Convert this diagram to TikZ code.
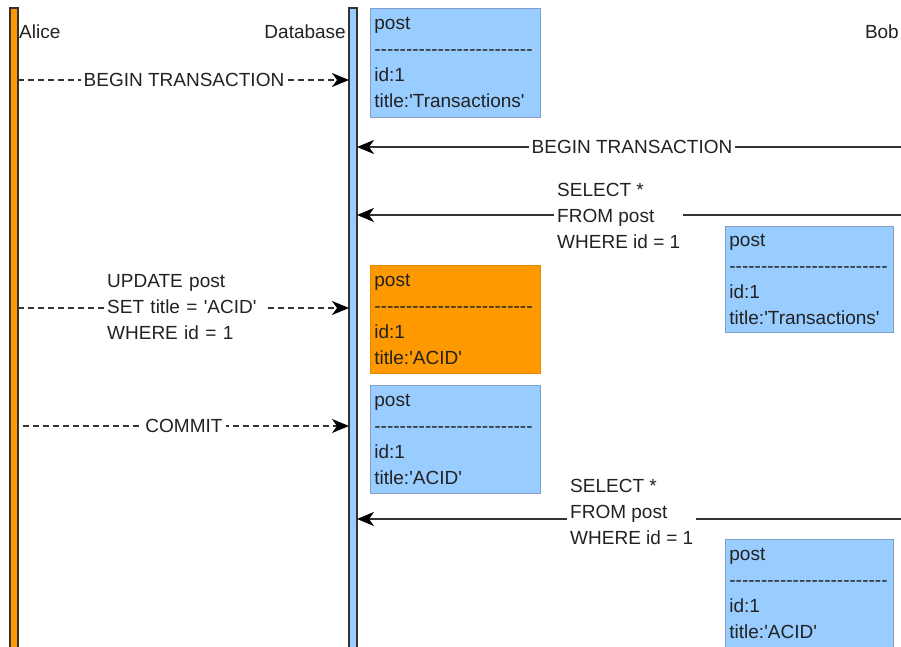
\documentclass[tikz,border=0pt]{standalone}
\usepackage{fontspec}
\setmainfont{Liberation Sans}
\usetikzlibrary{arrows.meta}

\definecolor{rowblue}{HTML}{99CCFF}
\definecolor{rowblueline}{HTML}{7F9FC8}
\definecolor{roworange}{HTML}{FF9900}
\definecolor{roworangeline}{HTML}{E08A00}
\definecolor{ink}{HTML}{222222}
\definecolor{wire}{HTML}{333333}

\tikzset{
  every node/.style={font=\fontsize{19}{26}\selectfont, text=ink},
  lifebar/.style={draw=wire, line width=1.2pt},
  record/.style={draw=rowblueline, fill=rowblue, line width=0.8pt, anchor=north west,
    align=left, inner sep=4pt, minimum width=170pt, text width=162pt},
  msgsync/.style={draw=wire, line width=1.5pt,
    -{Stealth[length=17pt,width=14pt,inset=5pt,color=black]}},
  msgasync/.style={msgsync, dash pattern=on 6pt off 4pt},
  lbl/.style={fill=white, inner sep=3pt, align=left},
}

% plain hyphens and straight quotes, kept apart so no ligature joins them
\newcommand{\hy}{-\kern0pt}
\newcommand{\fivehy}{\hy\hy\hy\hy\hy}
\newcommand{\sep}{\fivehy\fivehy\fivehy\fivehy\fivehy}
\newcommand{\q}{\textquotesingle}

\begin{document}
\begin{tikzpicture}[x=1pt, y=-1pt]
  \useasboundingbox (0,0) rectangle (901,647);
  \clip (0,0) rectangle (901,647);
  \fill[white] (0,0) rectangle (901,647);

  % lifelines
  \draw[lifebar, fill=roworange] (10,8) rectangle (18,651);
  \draw[lifebar, fill=rowblue] (349,8) rectangle (357,651);

  % participants
  \node[anchor=west, inner sep=1pt] (alice) at (18,32) {Alice};
  \node[anchor=east, inner sep=1pt] (db) at (347,32) {Database};
  \node[anchor=east, inner sep=1pt] (bob) at (900,32) {Bob};

  % row snapshots
  \node[record, minimum height=109pt] (r1) at (370,8)
    {post\\\sep\\id:1\\title:\q Transactions\q};
  \node[record, minimum height=106pt, minimum width=168pt, text width=160pt] (r2) at (725,226)
    {post\\\sep\\id:1\\title:\q Transactions\q};
  \node[record, draw=roworangeline, fill=roworange, minimum height=108pt] (r3) at (370,265)
    {post\\\sep\\id:1\\title:\q ACID\q};
  \node[record, minimum height=108pt] (r4) at (370,385)
    {post\\\sep\\id:1\\title:\q ACID\q};
  \node[record, minimum height=108pt, minimum width=168pt, text width=160pt] (r5) at (725,539)
    {post\\\sep\\id:1\\title:\q ACID\q};

  % message end points
  \coordinate (a1) at (18,80);   \coordinate (d1) at (349,80);
  \coordinate (b2) at (910,147); \coordinate (d2) at (357,147);
  \coordinate (b3) at (910,215); \coordinate (d3) at (357,215);
  \coordinate (a4) at (18,308);  \coordinate (d4) at (349,308);
  \coordinate (a5) at (23,426);  \coordinate (d5) at (349,426);
  \coordinate (b6) at (910,519); \coordinate (d6) at (357,519);

  % messages
  \draw[msgasync] (a1) -- (d1);
  \node[lbl] (m1) at (184,80) {BEGIN TRANSACTION};

  \draw[msgsync] (b2) -- (d2);
  \node[lbl] (m2) at (632,147) {BEGIN TRANSACTION};

  \draw[msgsync] (b3) -- (d3);
  \node[lbl, anchor=west] (m3) at (554,216) {SELECT *\\FROM post\\WHERE id = 1};

  \draw[msgasync] (a4) -- (d4);
  \node[lbl, anchor=west, text width=154pt] (m4) at (104,307) {UPDATE post\\SET title = \q ACID\q\\WHERE id = 1};

  \draw[msgasync] (a5) -- (d5);
  \node[lbl] (m5) at (184,426) {COMMIT};

  \draw[msgsync] (b6) -- (d6);
  \node[lbl, anchor=west] (m6) at (567,512) {SELECT *\\FROM post\\WHERE id = 1};
\end{tikzpicture}
\end{document}
